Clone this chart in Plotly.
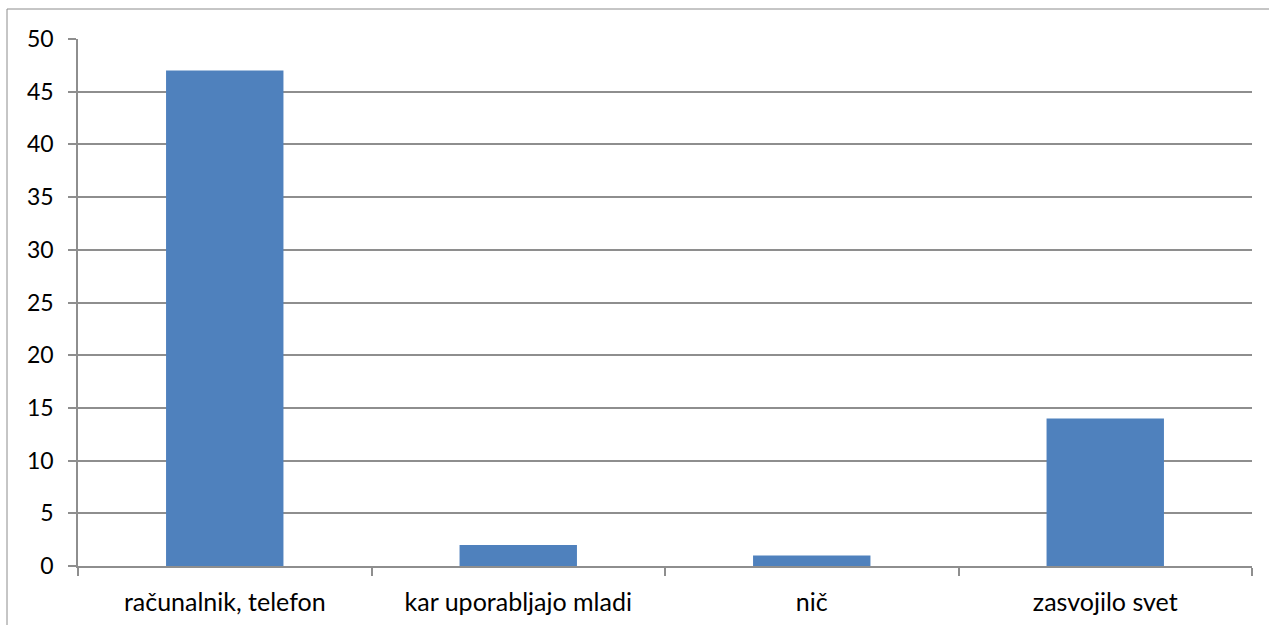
import plotly.graph_objects as go

categories = ["računalnik, telefon", "kar uporabljajo mladi", "nič", "zasvojilo svet"]
values = [47, 2, 1, 14]
y_ticks = [0, 5, 10, 15, 20, 25, 30, 35, 40, 45, 50]

W, H = 1269, 625
L, R, T, B = 78, 17, 39, 59
pw, ph = W - L - R, H - T - B

fig = go.Figure(go.Bar(x=categories, y=values, marker_color="#4F81BD",
                       marker_line_width=0, width=0.4))

grid = "#8E8E8E"
xfont = dict(family="Lato, Carlito, Calibri, sans-serif", size=25, color="#000000")
yfont = dict(family="Lato, Carlito, Calibri, sans-serif", size=23, color="#000000")

fig.update_layout(
    width=W, height=H,
    margin=dict(l=L, r=R, t=T, b=B, pad=0, autoexpand=False),
    paper_bgcolor="white", plot_bgcolor="white",
    showlegend=False, bargap=0.6,
    font=xfont,
    xaxis=dict(type="category", tickson="boundaries", showgrid=False,
               showline=True, linecolor=grid, linewidth=1.5,
               ticks="outside", ticklen=8, tickcolor=grid, tickwidth=1.5,
               tickfont=xfont, range=[-0.5, 3.5], fixedrange=True,
               ticklabelstandoff=13, automargin=False),
    yaxis=dict(range=[0, 50], tickvals=y_ticks, showgrid=True, gridcolor=grid,
               gridwidth=1.5, showline=True, linecolor=grid, linewidth=1.5,
               ticks="outside", ticklen=8, tickcolor=grid, tickwidth=1.5,
               tickfont=yfont, zeroline=False, ticklabelstandoff=10,
               fixedrange=True, automargin=False),
)

fig.add_shape(type="rect", xref="paper", yref="paper",
              x0=(7 - L) / pw, x1=(W + 40 - L) / pw,
              y0=-(B + 40) / ph, y1=1 + (T - 9) / ph,
              line=dict(color="#8C8C8C", width=1), fillcolor="rgba(0,0,0,0)",
              layer="below")

fig.write_html("out.html", config={"displayModeBar": False},
               post_script="document.body.style.margin='0';document.body.style.overflow='hidden';")
